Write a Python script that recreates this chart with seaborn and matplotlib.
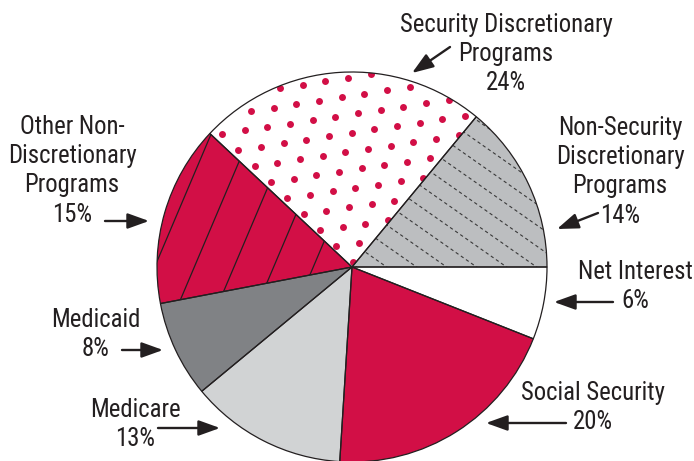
import os
import numpy as np
import matplotlib
matplotlib.use("Agg")
import matplotlib.pyplot as plt
import seaborn as sns
from matplotlib.patches import ArrowStyle
from matplotlib import font_manager as fm
from matplotlib.textpath import TextPath

# ---------------- data ----------------
categories = ["Net Interest", "Social Security", "Medicare", "Medicaid",
              "Other Non-Discretionary Programs", "Security Discretionary Programs",
              "Non-Security Discretionary Programs"]
shares = [6, 20, 13, 8, 15, 24, 14]
label_lines = [
    ["Net Interest", "6%"],
    ["Social Security", "20%"],
    ["Medicare", "13%"],
    ["Medicaid", "8%"],
    ["Other Non-", "Discretionary", "Programs", "15%"],
    ["Security Discretionary", "Programs", "24%"],
    ["Non-Security", "Discretionary", "Programs", "14%"],
]

RED = "#D20F46"
LGRAY = "#D1D3D4"
MGRAY = "#BCBEC0"
DGRAY = "#808285"
TXT = "#231F20"
colors = ["white", RED, LGRAY, DGRAY, RED, "white", MGRAY]

sns.set_theme(style="white")


# ---------- pick a condensed sans font if one is installed ----------
def pick_font():
    bad = ("bold", "italic", "oblique", "light", "semibold", "medium", "black",
           "thin", "heavy", "extrabold", "mono", "serif", "book")
    prefs = ["liberation sans narrow", "roboto condensed", "open sans condensed",
             "noto sans", "dejavu sans", "lato", "inter", "liberation sans"]
    found = []
    for f in fm.fontManager.ttflist:
        fn = os.path.basename(f.fname).lower()
        nm = f.name.lower()
        if not ("condensed" in fn or "narrow" in fn or "condensed" in nm
                or "narrow" in nm or str(f.stretch) in ("condensed", "semi-condensed")):
            continue
        if f.style != "normal":
            continue
        if any(b in fn.replace("semicondensed", "").replace("extracondensed", "")
               for b in bad):
            continue
        if "extracondensed" in fn or "ultracondensed" in fn:
            continue
        rank = len(prefs)
        for i, p in enumerate(prefs):
            if nm.startswith(p):
                rank = i
                break
        found.append((rank, fn, f.fname))
    if found:
        found.sort()
        return fm.FontProperties(fname=found[0][2])
    return fm.FontProperties(family=["Roboto", "DejaVu Sans"])


FP = pick_font()
ref_w = TextPath((0, 0), "Security Discretionary", size=1, prop=FP).get_extents().width
size_w = 212.0 / (ref_w * 100 / 72)
FS = min(17.8, size_w)
FP.set_size(FS)

W, H = 694, 461
fig = plt.figure(figsize=(W / 100, H / 100), dpi=100)
ax = fig.add_axes([0, 0, 1, 1])
CENTER = (352, 267)
R = 195

# filled wedges (y axis inverted later -> counterclock in data = clockwise on screen)
wedges, _ = ax.pie(shares, colors=colors, startangle=0, counterclock=True,
                   center=CENTER, radius=R, wedgeprops=dict(linewidth=0))


def add_lines(wedge, angle_deg, spacing, through, **kw):
    d = np.array([np.cos(np.radians(angle_deg)), np.sin(np.radians(angle_deg))])
    n = np.array([-d[1], d[0]])
    c = np.array(CENTER, dtype=float)
    p0 = np.array(through, dtype=float)
    for k in range(-60, 61):
        p = p0 + k * spacing * n
        if abs(np.dot(p - c, n)) > R:
            continue
        t = np.array([-800.0, 800.0])
        ln, = ax.plot(p[0] + t * d[0], p[1] + t * d[1], **kw)
        ln.set_clip_path(wedge)


def add_dots(wedge, spacing, rot_deg, through, **kw):
    a = np.radians(rot_deg)
    u = np.array([np.cos(a), np.sin(a)])
    v = np.array([-np.sin(a), np.cos(a)])
    k = np.arange(-15, 16)
    I, J = np.meshgrid(k, k)
    I, J = I.ravel(), J.ravel()
    pts = (np.array(through)[None, :] + spacing * (I[:, None] * u[None, :]
                                                   + (J[:, None] + 0.5 * (I[:, None] % 2)) * v[None, :]))
    c = np.array(CENTER)
    keep = np.hypot(*(pts - c).T) < R
    pts = pts[keep]
    sc = ax.scatter(pts[:, 0], pts[:, 1], **kw)
    sc.set_clip_path(wedge)


# dotted texture on Security Discretionary
add_dots(wedges[5], 20.5, 18.0, (359.0, 243.0), s=25, color=RED, linewidths=0, zorder=2)
# solid lines on Other Non-Discretionary
add_lines(wedges[4], 113.0, 36.5, (210.7, 135.0), color=TXT, lw=0.9,
          solid_capstyle="butt", zorder=2)
# dashed lines on Non-Security Discretionary
add_lines(wedges[6], 35.0, 17.2, (463.3, 131.7), color="#3a3a3a", lw=0.8,
          dashes=(3.0, 2.6), zorder=2)

# outlines
ow, _ = ax.pie(shares, colors=["none"] * len(shares), startangle=0, counterclock=True,
               center=CENTER, radius=R,
               wedgeprops=dict(linewidth=0.9, edgecolor=TXT, fill=False))
for w in ow:
    w.set_zorder(3)

ax.set_xlim(0, W)
ax.set_ylim(H, 0)
ax.set_aspect("equal")
ax.axis("off")

# labels: (center x, first baseline)
label_pos = [(635, 279), (593, 400), (135, 417), (96, 327),
             (72, 134), (506, 32), (620, 135)]
LINE = 29.2
for lines, (x, y0) in zip(label_lines, label_pos):
    for i, s in enumerate(lines):
        ax.text(x, y0 + i * LINE, s, ha="center", va="baseline",
                fontproperties=FP, color=TXT)

# arrows: (tail, head)
arrows = [((613, 302), (554, 302)),
          ((566, 423), (486, 423)),
          ((158, 428), (220, 428)),
          ((122, 350), (163, 350)),
          ((105, 221), (149, 221)),
          ((450, 47), (412, 73)),
          ((598, 213), (557, 229))]
style = ArrowStyle("-|>", head_length=1.0, head_width=0.36)
for tail, head in arrows:
    ax.annotate("", xy=head, xytext=tail,
                arrowprops=dict(arrowstyle=style, color=TXT, lw=1.7,
                                mutation_scale=13, shrinkA=0, shrinkB=0))

fig.savefig("out.png", dpi=100, facecolor="white")
